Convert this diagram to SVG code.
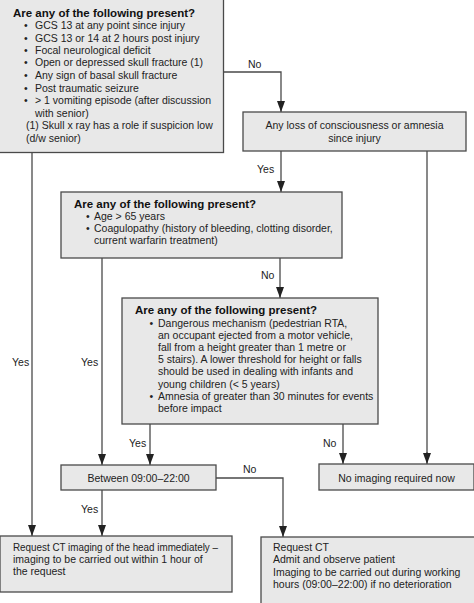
<svg xmlns="http://www.w3.org/2000/svg" width="474" height="603" viewBox="0 0 474 603">
<style>
.box{fill:#e8e8e8;stroke:#4a4a4a;stroke-width:1.3}
.t{font-family:"Liberation Sans",Arial,sans-serif;font-size:10.5px;fill:#222}
.h{font-family:"Liberation Sans",Arial,sans-serif;font-size:11.5px;font-weight:bold;fill:#111}
.c{text-anchor:middle}
.ln{fill:none;stroke:#4a4a4a;stroke-width:1.3;marker-end:url(#ah)}
.nl{fill:none;stroke:#4a4a4a;stroke-width:1.3}
</style>
<defs>
<marker id="ah" viewBox="0 0 11 8" refX="11" refY="4" markerWidth="11" markerHeight="8" markerUnits="userSpaceOnUse" orient="auto">
<path d="M0,0 L11,4 L0,8 Z" fill="#222"/>
</marker>
</defs>
<rect width="474" height="603" fill="#fff"/>
<g id="connectors">
<path class="ln" d="M224,72 H281 V112"/>
<path class="ln" d="M281,151 V192"/>
<path class="nl" d="M427,151 V453"/>
<path class="ln" d="M427,452 V464"/>
<path class="ln" d="M280,258 V298"/>
<path class="ln" d="M32,152 V536"/>
<path class="ln" d="M102,258 V465"/>
<path class="ln" d="M150,424 V465"/>
<path class="ln" d="M343,424 V464"/>
<path class="ln" d="M216,478 H283 V537"/>
<path class="ln" d="M102,490 V536"/>
<text class="t" x="248" y="68">No</text>
<text class="t" x="257" y="173">Yes</text>
<text class="t" x="261" y="279">No</text>
<text class="t" x="12" y="366">Yes</text>
<text class="t" x="81" y="366">Yes</text>
<text class="t" x="129" y="447">Yes</text>
<text class="t" x="323" y="447">No</text>
<text class="t" x="243" y="473">No</text>
<text class="t" x="81" y="513">Yes</text>
</g>
<g id="q1">
<rect class="box" x="-1" y="-1" width="224.5" height="153.5"/>
<text class="h" x="13" y="17">Are any of the following present?</text>
<g class="t">
<text x="24" y="29">•</text><text x="35" y="29">GCS 13 at any point since injury</text>
<text x="24" y="42">•</text><text x="35" y="42">GCS 13 or 14 at 2 hours post injury</text>
<text x="24" y="54">•</text><text x="35" y="54">Focal neurological deficit</text>
<text x="24" y="66">•</text><text x="35" y="66">Open or depressed skull fracture (1)</text>
<text x="24" y="79">•</text><text x="35" y="79">Any sign of basal skull fracture</text>
<text x="24" y="92">•</text><text x="35" y="92">Post traumatic seizure</text>
<text x="24" y="104">•</text><text x="35" y="104">&gt; 1 vomiting episode (after discussion</text>
<text x="35" y="117">with senior)</text>
<text x="26" y="129">(1) Skull x ray has a role if suspicion low</text>
<text x="26" y="142">(d/w senior)</text>
</g>
</g>
<g id="q2">
<rect class="box" x="243" y="112" width="223" height="39"/>
<text class="t c" x="354.5" y="129">Any loss of consciousness or amnesia</text>
<text class="t c" x="354.5" y="142">since injury</text>
</g>
<g id="q3">
<rect class="box" x="61" y="192" width="281" height="66"/>
<text class="h" x="74" y="208">Are any of the following present?</text>
<g class="t">
<text x="86" y="220">•</text><text x="94" y="220">Age &gt; 65 years</text>
<text x="86" y="232">•</text><text x="94" y="232">Coagulopathy (history of bleeding, clotting disorder,</text>
<text x="94" y="244">current warfarin treatment)</text>
</g>
</g>
<g id="q4">
<rect class="box" x="122" y="298" width="256" height="126"/>
<text class="h" x="135" y="314">Are any of the following present?</text>
<g class="t">
<text x="149.5" y="327">•</text><text x="158" y="327">Dangerous mechanism (pedestrian RTA,</text>
<text x="158" y="339">an occupant ejected from a motor vehicle,</text>
<text x="158" y="351">fall from a height greater than 1 metre or</text>
<text x="158" y="363">5 stairs). A lower threshold for height or falls</text>
<text x="158" y="375">should be used in dealing with infants and</text>
<text x="158" y="388">young children (&lt; 5 years)</text>
<text x="149.5" y="400">•</text><text x="158" y="400">Amnesia of greater than 30 minutes for events</text>
<text x="158" y="412">before impact</text>
</g>
</g>
<g id="between">
<rect class="box" x="61" y="465" width="155" height="25"/>
<text class="t c" x="138.5" y="481.5">Between 09:00–22:00</text>
</g>
<g id="noimaging">
<rect class="box" x="319" y="464" width="155" height="26"/>
<text class="t c" x="396.5" y="481.5">No imaging required now</text>
</g>
<g id="ctnow">
<rect class="box" x="0" y="536" width="232" height="56"/>
<text class="t" x="13" y="551" textLength="205" lengthAdjust="spacingAndGlyphs">Request CT imaging of the head immediately –</text>
<text class="t" x="13" y="563">imaging to be carried out within 1 hour of</text>
<text class="t" x="13" y="575">the request</text>
</g>
<g id="ctlater">
<rect class="box" x="261" y="537" width="214" height="67"/>
<text class="t" x="273" y="551">Request CT</text>
<text class="t" x="273" y="563">Admit and observe patient</text>
<text class="t" x="273" y="576">Imaging to be carried out during working</text>
<text class="t" x="273" y="588">hours (09:00–22:00) if no deterioration</text>
</g>
</svg>
